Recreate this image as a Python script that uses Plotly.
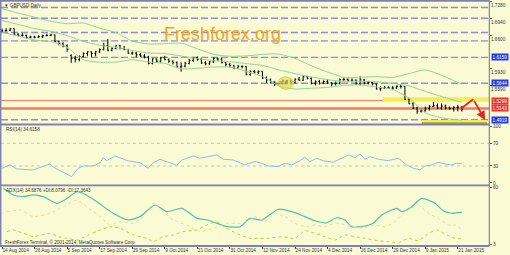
import plotly.graph_objects as go

W, H = 510, 255

# ---------------- data ----------------
date_labels = ["14 Aug 2014", "26 Aug 2014", "5 Sep 2014", "17 Sep 2014", "29 Sep 2014",
               "9 Oct 2014", "21 Oct 2014", "31 Oct 2014", "12 Nov 2014", "24 Nov 2014",
               "4 Dec 2014", "16 Dec 2014", "29 Dec 2014", "9 Jan 2015", "21 Jan 2015"]
date_bars = [0, 8, 16, 24, 32, 40, 48, 56, 64, 72, 80, 88, 96, 104, 112]

bar_open = [1.6688, 1.6690, 1.6700, 1.6730, 1.6620, 1.6600, 1.6600, 1.6560, 1.6565, 1.6560,
            1.6570, 1.6590, 1.6597, 1.6605, 1.6480, 1.6435, 1.6390, 1.6200, 1.6140, 1.6116,
            1.6176, 1.6235, 1.6270, 1.6237, 1.6270, 1.6313, 1.6395, 1.6302, 1.6335, 1.6395,
            1.6335, 1.6315, 1.6245, 1.6245, 1.6210, 1.6186, 1.6166, 1.6040, 1.6130, 1.6085,
            1.6150, 1.6115, 1.6085, 1.6055, 1.5970, 1.5985, 1.6040, 1.6100, 1.6150, 1.6120,
            1.6050, 1.6030, 1.6070, 1.6140, 1.6125, 1.6055, 1.6020, 1.5995, 1.5945, 1.5980,
            1.5975, 1.5820, 1.5880, 1.5865, 1.5875, 1.5750, 1.5710, 1.5670, 1.5630, 1.5640,
            1.5690, 1.5690, 1.5660, 1.5725, 1.5705, 1.5775, 1.5745, 1.5640, 1.5680, 1.5645,
            1.5680, 1.5650, 1.5630, 1.5640, 1.5715, 1.5720, 1.5705, 1.5705, 1.5635, 1.5710,
            1.5650, 1.5660, 1.5630, 1.5530, 1.5545, 1.5565, 1.5550, 1.5550, 1.5585, 1.5580,
            1.5325, 1.5235, 1.5150, 1.5090, 1.5095, 1.5145, 1.5180, 1.5195, 1.5150, 1.5190,
            1.5150, 1.5140, 1.5160, 1.5170]
bar_high = [1.6735, 1.6740, 1.6745, 1.6735, 1.6640, 1.6640, 1.6610, 1.6590, 1.6590, 1.6600,
            1.6610, 1.6630, 1.6630, 1.6615, 1.6495, 1.6460, 1.6420, 1.6220, 1.6190, 1.6200,
            1.6260, 1.6280, 1.6280, 1.6290, 1.6340, 1.6450, 1.6525, 1.6360, 1.6410, 1.6410,
            1.6390, 1.6330, 1.6275, 1.6270, 1.6245, 1.6225, 1.6190, 1.6140, 1.6140, 1.6170,
            1.6190, 1.6140, 1.6100, 1.6080, 1.6060, 1.6070, 1.6130, 1.6170, 1.6180, 1.6140,
            1.6090, 1.6090, 1.6160, 1.6150, 1.6150, 1.6070, 1.6050, 1.6010, 1.6010, 1.6000,
            1.5990, 1.5900, 1.5910, 1.5900, 1.5880, 1.5780, 1.5740, 1.5690, 1.5680, 1.5720,
            1.5710, 1.5720, 1.5740, 1.5770, 1.5800, 1.5790, 1.5760, 1.5700, 1.5710, 1.5700,
            1.5720, 1.5670, 1.5680, 1.5740, 1.5760, 1.5740, 1.5740, 1.5720, 1.5780, 1.5730,
            1.5690, 1.5680, 1.5640, 1.5580, 1.5590, 1.5580, 1.5590, 1.5600, 1.5620, 1.5590,
            1.5340, 1.5270, 1.5170, 1.5130, 1.5180, 1.5210, 1.5270, 1.5240, 1.5240, 1.5220,
            1.5180, 1.5190, 1.5210, 1.5190]
bar_low = [1.6660, 1.6670, 1.6680, 1.6600, 1.6580, 1.6570, 1.6535, 1.6540, 1.6540, 1.6550,
           1.6545, 1.6580, 1.6580, 1.6470, 1.6400, 1.6360, 1.6270, 1.6050, 1.6060, 1.6080,
           1.6160, 1.6190, 1.6160, 1.6180, 1.6250, 1.6300, 1.6280, 1.6280, 1.6320, 1.6320,
           1.6300, 1.6230, 1.6210, 1.6160, 1.6160, 1.6140, 1.6020, 1.6020, 1.6060, 1.6050,
           1.6100, 1.6050, 1.6020, 1.5950, 1.5875, 1.5960, 1.6020, 1.6070, 1.6090, 1.6030,
           1.6000, 1.6010, 1.6050, 1.6090, 1.6040, 1.5980, 1.5960, 1.5925, 1.5940, 1.5940,
           1.5800, 1.5790, 1.5840, 1.5830, 1.5730, 1.5650, 1.5640, 1.5590, 1.5600, 1.5620,
           1.5630, 1.5620, 1.5640, 1.5690, 1.5690, 1.5720, 1.5620, 1.5600, 1.5620, 1.5630,
           1.5630, 1.5580, 1.5600, 1.5620, 1.5690, 1.5670, 1.5680, 1.5610, 1.5600, 1.5620,
           1.5620, 1.5600, 1.5520, 1.5490, 1.5530, 1.5530, 1.5510, 1.5530, 1.5540, 1.5310,
           1.5230, 1.5130, 1.5035, 1.5060, 1.5080, 1.5100, 1.5170, 1.5130, 1.5120, 1.5120,
           1.5120, 1.5080, 1.5085, 1.5080]
bar_close = [1.6690, 1.6700, 1.6730, 1.6620, 1.6600, 1.6600, 1.6560, 1.6565, 1.6560, 1.6570,
             1.6590, 1.6597, 1.6605, 1.6480, 1.6435, 1.6390, 1.6317, 1.6140, 1.6116, 1.6176,
             1.6235, 1.6270, 1.6237, 1.6270, 1.6313, 1.6395, 1.6302, 1.6335, 1.6395, 1.6335,
             1.6315, 1.6245, 1.6245, 1.6210, 1.6186, 1.6166, 1.6040, 1.6130, 1.6085, 1.6150,
             1.6115, 1.6085, 1.6055, 1.5970, 1.5985, 1.6040, 1.6100, 1.6150, 1.6120, 1.6050,
             1.6030, 1.6070, 1.6140, 1.6125, 1.6055, 1.6020, 1.5995, 1.5945, 1.5980, 1.5975,
             1.5820, 1.5880, 1.5865, 1.5875, 1.5750, 1.5710, 1.5670, 1.5630, 1.5640, 1.5690,
             1.5690, 1.5660, 1.5725, 1.5705, 1.5775, 1.5745, 1.5640, 1.5680, 1.5645, 1.5680,
             1.5650, 1.5630, 1.5640, 1.5715, 1.5720, 1.5705, 1.5705, 1.5635, 1.5710, 1.5650,
             1.5660, 1.5630, 1.5530, 1.5545, 1.5565, 1.5550, 1.5550, 1.5585, 1.5580, 1.5325,
             1.5235, 1.5150, 1.5090, 1.5095, 1.5145, 1.5180, 1.5195, 1.5150, 1.5190, 1.5150,
             1.5140, 1.5160, 1.5170, 1.5120]
bars = list(range(len(bar_close)))

# Bollinger bands, read at sample bars
bb_bar = [0, 4, 8, 12, 16, 20, 24, 28, 32, 36, 40, 44, 48, 52, 56, 60, 64, 68, 72, 76,
          80, 84, 88, 92, 96, 100, 104, 108, 112, 113]
bb_upper = [1.7129, 1.7042, 1.6960, 1.6879, 1.6829, 1.6844, 1.6740, 1.6652, 1.6482, 1.6426,
            1.6433, 1.6442, 1.6330, 1.6220, 1.6182, 1.6189, 1.6219, 1.6226, 1.6139, 1.5993,
            1.5869, 1.5762, 1.5765, 1.5776, 1.5760, 1.5836, 1.5909, 1.5804, 1.5660, 1.5625]
bb_middle = [1.6893, 1.6814, 1.6733, 1.6677, 1.6593, 1.6479, 1.6401, 1.6358, 1.6297, 1.6246,
             1.6237, 1.6187, 1.6136, 1.6094, 1.6074, 1.6036, 1.5999, 1.5911, 1.5835, 1.5769,
             1.5715, 1.5682, 1.5687, 1.5673, 1.5640, 1.5593, 1.5482, 1.5380, 1.5288, 1.5268]
bb_lower = [1.6657, 1.6585, 1.6505, 1.6475, 1.6357, 1.6114, 1.6063, 1.6064, 1.6113, 1.6067,
            1.6041, 1.5932, 1.5943, 1.5968, 1.5966, 1.5882, 1.5779, 1.5596, 1.5531, 1.5545,
            1.5562, 1.5602, 1.5610, 1.5569, 1.5520, 1.5350, 1.5055, 1.4956, 1.4915, 1.4910]

# RSI(14)
rsi_bar = [0, 2.0, 3.6, 7.7, 11.8, 12.5, 14.7, 17.1, 18.7, 20.0, 22.4, 24.1, 24.9, 25.7, 27.8,
           31.0, 33.9, 35.9, 37.2, 38.8, 42.1, 42.9, 44.2, 47.0, 48.6, 52.8, 54.4, 56.8, 59.7,
           62.2, 63.8, 65.4, 67.9, 69.5, 71.2, 72.8, 74.4, 75.7, 77.3, 78.9, 81.4, 83.5, 85.1,
           86.7, 88.0, 89.2, 90.4, 92.5, 94.9, 97.4, 99.4, 101.1, 102.7, 103.9, 105.6, 107.2,
           108.8, 110.5, 111.7, 113.0]
rsi_val = [26, 31.8, 24.8, 23, 33.6, 28.8, 20, 11.2, 26, 30, 30, 35.9, 44.7, 39.4, 47.7,
           38.9, 35.9, 26, 35.9, 41.8, 33.6, 31.3, 40.6, 47.7, 43.6, 49.4, 41.8, 40.6, 31.8,
           38, 34.8, 30, 28.8, 34.8, 31.8, 37.6, 45.4, 37.6, 43.6, 39.4, 36.6, 43.6, 49.4,
           44.7, 51.2, 41.8, 46.4, 41.8, 39.4, 43.6, 31.8, 26, 23, 30, 31.8, 36.6,
           33.6, 31.8, 34.8, 34.6]

# ADX(14)
adx_bar = [0.3, 2.8, 5.2, 7.6, 10.1, 13.5, 16.0, 18.4, 19.9, 23.3, 27.3, 31.0, 33.9, 37.6,
           40.5, 44.2, 47.9, 50.4, 52.8, 55.3, 58.5, 60.9, 63.8, 67.9, 71.2, 74.4, 76.9, 79.8,
           82.2, 84.3, 85.9, 89.2, 91.2, 93.3, 97.0, 98.2, 100.7, 103.1, 106.4, 108.4, 110.5, 113.0]
adx_val = [59, 52.3, 50.6, 52.3, 50.6, 43.9, 48.9, 55.6, 54, 45.5, 33.9, 27.2, 30.5, 42.2,
           35.5, 38.9, 28.8, 27.1, 23.8, 20.4, 20.4, 28.8, 27.1, 37.9, 35.5, 30.5, 26.4, 24.4,
           29.4, 27.1, 20.4, 21.1, 23.8, 32.2, 38.9, 35.5, 40.5, 48.9, 43.9, 36.5, 33.9, 34.7]
pdi_bar = [1.2, 2.8, 5.2, 7.7, 11.8, 13.8, 15.9, 18.7, 21.2, 24.1, 26.5, 29.0, 32.3, 35.6,
           37.2, 39.6, 42.1, 44.5, 47.8, 50.3, 52.8, 55.2, 58.5, 60.9, 65.4, 68.7, 72.0, 74.4,
           76.9, 79.4, 81.8, 84.3, 86.7, 89.2, 92.5, 94.9, 97.4, 99.8, 102.3, 104.3, 106.8,
           109.3, 111.3, 113.0]
pdi_val = [15.4, 17.1, 13.8, 10.4, 13.8, 10.4, 8.7, 7, 12.1, 17.1, 20.4, 18.8, 12.1, 8.7,
           5.3, 10.4, 12.1, 15.4, 17.1, 22.1, 25.4, 18.8, 12.1, 8.7, 8.7, 10.4, 8.7, 16.4,
           13.8, 10.4, 7, 12.1, 10.4, 8.7, 6.3, 5.3, 4.3, 8.7, 6.3, 12.1, 17.1,
           12.1, 8.7, 8.1]
mdi_bar = [1.2, 4.4, 7.7, 11.8, 15.1, 18.4, 20.8, 24.1, 26.5, 29.0, 32.3, 34.7, 37.2, 39.6,
           42.1, 45.4, 48.6, 51.9, 55.2, 58.5, 60.9, 62.2, 64.6, 67.1, 69.5, 72.0, 74.4, 76.9,
           79.4, 81.8, 85.1, 88.4, 91.6, 94.1, 96.6, 98.6, 100.7, 102.3, 104.7, 107.2, 109.7,
           111.3, 113.0]
mdi_val = [35.5, 37.2, 30.5, 33.9, 40.5, 47.2, 40.5, 30.5, 22.1, 25.4, 23.8, 30.5, 43.9, 35.5,
           27.1, 22.1, 15.4, 18.8, 23.8, 23.8, 27.1, 30.5, 25.4, 33.9, 30.5, 23.8, 20.4, 22.1,
           20.4, 23.8, 22.1, 18.8, 22.1, 20.4, 25.4, 33.9, 38.9, 42.2, 33.9, 28.8, 22.1,
           22.1, 17.4]

# axis tick labels (those hidden behind the line price boxes are left out)
price_ticks = [1.7280, 1.6940, 1.6600, 1.5930, 1.5590]
rsi_ticks = [100, 70, 30, 0]
adx_ticks = [60, 3]

# horizontal level lines drawn on the chart
dashed_levels = [1.7153, 1.6940, 1.6656, 1.6489, 1.6159, 1.5644, 1.4919]
blue_labels = [1.6159, 1.5644, 1.4919]
red_levels = [1.5299, 1.5143]
red_widths = [1.0, 2.6]

# drawings (bar index, price)
band1 = (93.6, 120.0, 1.5280, 1.5364)
band2 = (103.2, 119.2, 1.4853, 1.4912)
arrow_pts = [(112.9, 1.5145), (115.8, 1.5324), (118.7, 1.4912)]
circle = (67.9, 71.6, 1.5525, 1.5770)
mark_bar = [68.7, 69.8]
mark_price = [1.5654, 1.5654]
mark_col = ["#E02020", "#2030E0"]

# ---------------- geometry helpers ----------------
def px_x(p):
    return p / W

def px_y(p):
    return 1 - p / H

X_RANGE = [-0.246, 119.66]
XDOM = [px_x(1), px_x(489)]
BG = "#FAFAD4"
AX_FONT = dict(family="Liberation Sans", size=4.7, color="#333333")

fig = go.Figure()

# bars
fig.add_trace(go.Ohlc(x=bars, open=bar_open, high=bar_high, low=bar_low, close=bar_close,
                      increasing=dict(line=dict(color="#000000", width=1)),
                      decreasing=dict(line=dict(color="#000000", width=1)),
                      tickwidth=0.3, xaxis="x", yaxis="y", hoverinfo="skip"))
# bollinger
for arr in (bb_upper, bb_middle, bb_lower):
    fig.add_trace(go.Scatter(x=bb_bar, y=arr, mode="lines", xaxis="x", yaxis="y",
                             line=dict(color="#8CD497", width=1, shape="spline", smoothing=0.6),
                             hoverinfo="skip"))
# marks inside circle
fig.add_trace(go.Scatter(x=mark_bar, y=mark_price, mode="markers", xaxis="x", yaxis="y",
                         marker=dict(color=mark_col, size=3, symbol="square"), hoverinfo="skip"))
# RSI
fig.add_trace(go.Scatter(x=rsi_bar, y=rsi_val, mode="lines", xaxis="x2", yaxis="y2",
                         line=dict(color="#86C2EC", width=1), hoverinfo="skip"))
# ADX
fig.add_trace(go.Scatter(x=adx_bar, y=adx_val, mode="lines", xaxis="x3", yaxis="y3",
                         line=dict(color="#4CC4A6", width=1.2, shape="spline", smoothing=0.6),
                         hoverinfo="skip"))
fig.add_trace(go.Scatter(x=pdi_bar, y=pdi_val, mode="lines", xaxis="x3", yaxis="y3",
                         line=dict(color="#B2D23E", width=1, dash="dot", shape="spline", smoothing=0.5),
                         hoverinfo="skip"))
fig.add_trace(go.Scatter(x=mdi_bar, y=mdi_val, mode="lines", xaxis="x3", yaxis="y3",
                         line=dict(color="#EED89A", width=1, dash="dot", shape="spline", smoothing=0.5),
                         hoverinfo="skip"))

shapes = []
# yellow bands (under lines)
shapes.append(dict(type="rect", xref="x", yref="y", x0=band1[0], x1=band1[1], y0=band1[2], y1=band1[3],
                   fillcolor="#F2EE5A", line=dict(width=0), layer="below"))
shapes.append(dict(type="rect", xref="x", yref="y", x0=band2[0], x1=band2[1], y0=band2[2], y1=band2[3],
                   fillcolor="#F2EE5A", line=dict(width=0), layer="below"))
shapes.append(dict(type="line", xref="x", yref="y", x0=band2[0], x1=band2[1], y0=band2[2] - 0.0009,
                   y1=band2[2] - 0.0009, line=dict(color="#222222", width=1.3)))
for lv in dashed_levels:
    shapes.append(dict(type="line", xref="x domain", yref="y", x0=0, x1=1, y0=lv, y1=lv,
                       line=dict(color="#8C8CE2", width=1.4, dash="7px,3px"), layer="below"))
for lv, wd in zip(red_levels, red_widths):
    shapes.append(dict(type="line", xref="x domain", yref="y", x0=0, x1=1, y0=lv, y1=lv,
                       line=dict(color="#F07A68", width=wd), layer="below"))
# RSI levels
for lv in (70, 30):
    shapes.append(dict(type="line", xref="x2 domain", yref="y2", x0=0, x1=1, y0=lv, y1=lv,
                       line=dict(color="#C8C8B8", width=1, dash="dot"), layer="below"))
# circle
shapes.append(dict(type="circle", xref="x", yref="y", x0=circle[0], x1=circle[1], y0=circle[2], y1=circle[3],
                   fillcolor="rgba(225,220,80,0.65)", line=dict(color="#D8D040", width=1)))
# red arrow first leg
shapes.append(dict(type="line", xref="x", yref="y", x0=arrow_pts[0][0], y0=arrow_pts[0][1],
                   x1=arrow_pts[1][0], y1=arrow_pts[1][1], line=dict(color="#E42A20", width=1.8)))
# frame: panel separators, borders
FR = "#8080B4"
for py in (0.8, 124.5, 185.3, 246.0):
    shapes.append(dict(type="line", xref="paper", yref="paper", x0=0, x1=px_x(489.5),
                       y0=px_y(py), y1=px_y(py), line=dict(color=FR, width=1.8)))
shapes.append(dict(type="line", xref="paper", yref="paper", x0=px_x(0.7), x1=px_x(0.7),
                   y0=px_y(0.8), y1=px_y(246), line=dict(color=FR, width=1.5)))
shapes.append(dict(type="line", xref="paper", yref="paper", x0=px_x(489.3), x1=px_x(489.3),
                   y0=px_y(0.8), y1=px_y(246), line=dict(color="#6E6E9A", width=1)))

ann = []
ann.append(dict(x=arrow_pts[2][0], y=arrow_pts[2][1], ax=arrow_pts[1][0], ay=arrow_pts[1][1],
                xref="x", yref="y", axref="x", ayref="y", text="", showarrow=True,
                arrowhead=2, arrowsize=1, arrowwidth=1.8, arrowcolor="#E42A20"))
for lv in blue_labels:
    ann.append(dict(x=px_x(490.5), y=lv, xref="paper", yref="y", xanchor="left", yanchor="middle",
                    text=f"{lv:.4f}", showarrow=False, bgcolor="#1E3CF0", borderpad=0.6,
                    font=dict(family="Liberation Sans", size=4.7, color="#FFFFFF")))
for lv in red_levels:
    ann.append(dict(x=px_x(490.5), y=lv, xref="paper", yref="y", xanchor="left", yanchor="middle",
                    text=f"{lv:.4f}", showarrow=False, bgcolor="#EE3030", borderpad=0.6,
                    font=dict(family="Liberation Sans", size=4.7, color="#FFFFFF")))
ann.append(dict(x=px_x(2), y=px_y(5), xref="paper", yref="paper", xanchor="left", yanchor="middle",
                text="▼ GBPUSD,Daily", showarrow=False,
                font=dict(family="Liberation Sans", size=4.6, color="#333333")))
ann.append(dict(x=px_x(162), y=px_y(34), xref="paper", yref="paper", xanchor="left", yanchor="middle",
                text="Freshforex.org", showarrow=False,
                font=dict(family="Liberation Sans", size=18, color="#F6A422")))
ann.append(dict(x=px_x(3.5), y=px_y(129.5), xref="paper", yref="paper", xanchor="left", yanchor="middle",
                text="RSI(14) 34.6158", showarrow=False,
                font=dict(family="Liberation Sans", size=4.6, color="#333333")))
ann.append(dict(x=px_x(3.5), y=px_y(190.5), xref="paper", yref="paper", xanchor="left", yanchor="middle",
                text="ADX(14) 34.6876 +DI:8.0796 -DI:17.3643", showarrow=False,
                font=dict(family="Liberation Sans", size=4.6, color="#333333")))
ann.append(dict(x=px_x(3), y=px_y(242), xref="paper", yref="paper", xanchor="left", yanchor="middle",
                text="FreshForex Terminal, © 2001-2014, MetaQuotes Software Corp.", showarrow=False,
                font=dict(family="Liberation Sans", size=4.6, color="#333333")))

xcommon = dict(range=X_RANGE, domain=XDOM, showgrid=False, zeroline=False, showline=False,
               fixedrange=True)
ycommon = dict(side="right", showgrid=False, zeroline=False, showline=False, ticks="outside",
               ticklen=2, tickcolor="#555555", tickfont=AX_FONT, fixedrange=True, automargin=False)

fig.update_layout(
    width=W, height=H, margin=dict(l=0, r=0, t=0, b=0),
    paper_bgcolor=BG, plot_bgcolor=BG, showlegend=False,
    xaxis=dict(**xcommon, anchor="y", showticklabels=False, rangeslider=dict(visible=False)),
    xaxis2=dict(**xcommon, anchor="y2", showticklabels=False, matches="x"),
    xaxis3=dict(**xcommon, anchor="y3", matches="x", tickvals=date_bars, ticktext=date_labels,
                ticks="outside", ticklen=2, tickcolor="#444444", tickfont=AX_FONT, tickangle=0,
                ticklabelposition="outside right", automargin=False),
    yaxis=dict(**ycommon, anchor="x", domain=[px_y(123.5), px_y(1)], range=[1.48429, 1.7282],
               tickvals=price_ticks, ticktext=[f"{t:.4f}" for t in price_ticks],
               ticklabelposition="outside bottom"),
    yaxis2=dict(**ycommon, anchor="x2", domain=[px_y(184), px_y(125.5)], range=[-1.8, 101.4],
                tickvals=rsi_ticks, ticktext=[str(t) for t in rsi_ticks]),
    yaxis3=dict(**ycommon, anchor="x3", domain=[px_y(245.5), px_y(186.5)], range=[1.5, 60.8],
                tickvals=adx_ticks, ticktext=[str(t) for t in adx_ticks]),
    shapes=shapes, annotations=ann,
)

fig.write_html("out.html", config={"displayModeBar": False})
